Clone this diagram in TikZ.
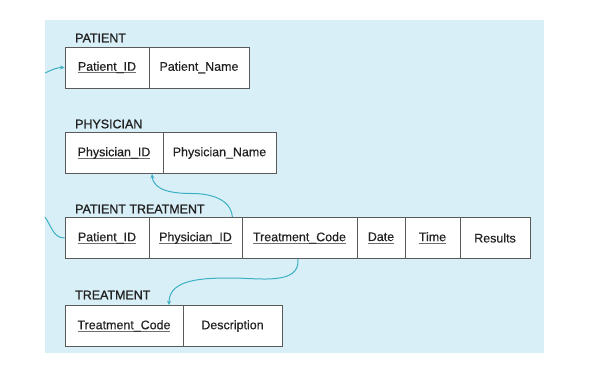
\documentclass[tikz,border=0pt]{standalone}
\usepackage{fontspec}
\setmainfont{Liberation Sans}
\newfontfamily\cellfont[FakeBold=0.4]{Liberation Sans}
\newfontfamily\titlefont[FakeBold=1.1]{Liberation Sans}
\usetikzlibrary{arrows.meta}
\definecolor{bgblue}{HTML}{D9EFF7}
\definecolor{teal}{HTML}{3BB0C3}
\definecolor{boxline}{HTML}{5A5A5A}
\definecolor{keyline}{HTML}{6E6E6E}
\definecolor{txt}{HTML}{222222}
\newcommand\keyf[1]{\setbox0\hbox{#1}\rlap{\textcolor{keyline}{\rule[-2.6pt]{\wd0}{0.9pt}}}\box0}
\tikzset{
  cell/.style={draw=boxline, line width=0.8bp, fill=white, minimum height=41bp, inner sep=0pt,
    text=txt, font=\cellfont\fontsize{12.5}{14}\selectfont},
  title/.style={anchor=west, inner sep=0pt, text=txt, font=\titlefont\fontsize{12.5}{14}\selectfont},
  link/.style={draw=teal, line width=1bp},
  tip/.style={-{Stealth[length=4.5bp,width=4bp]}}
}
\begin{document}
\begin{tikzpicture}[x=1bp,y=-1bp]
\useasboundingbox (0,0) rectangle (612,372);
\fill[bgblue] (45,20) rectangle (544,353);

% PATIENT
\node[title] (tpa) at (75,38) {PATIENT};
\node[cell, minimum width=84bp] (pa1) at (107,67.5) {\keyf{Patient\_ID}};
\node[cell, minimum width=100bp] (pa2) at (199,67.5) {Patient\_Name};

% PHYSICIAN
\node[title] (tph) at (75,124) {PHYSICIAN};
\node[cell, minimum width=98bp] (ph1) at (114,153) {\keyf{Physician\_ID}};
\node[cell, minimum width=113bp] (ph2) at (219.5,153) {Physician\_Name};

% PATIENT TREATMENT
\node[title] (tpt) at (75,209) {PATIENT TREATMENT};
\node[cell, minimum width=84bp] (pt1) at (107,238) {\keyf{Patient\_ID}};
\node[cell, minimum width=93bp] (pt2) at (195.5,238) {\keyf{Physician\_ID}};
\node[cell, minimum width=115bp] (pt3) at (299.5,238) {\keyf{Treatment\_Code}};
\node[cell, minimum width=48bp] (pt4) at (381,238) {\keyf{Date}};
\node[cell, minimum width=55bp] (pt5) at (432.5,238) {\keyf{Time}};
\node[cell, minimum width=70bp] (pt6) at (495,238) {Results};

% TREATMENT
\node[title] (ttr) at (75,295) {TREATMENT};
\node[cell, minimum width=118bp] (tr1) at (124,326) {\keyf{Treatment\_Code}};
\node[cell, minimum width=99bp] (tr2) at (232.5,326) {Description};

% connectors
\coordinate (in1) at (45,73);
\coordinate (out1) at (45,217);
\coordinate (m1) at (192,193.5);
\coordinate (m2) at (232,278);

\draw[link, tip] (in1) to[out=25,in=180] (pa1.west);
\draw[link] (pt1.west) to[out=180,in=-55] (out1);
\draw[link, tip] ([xshift=-10bp]pt2.north east) to[out=95,in=0] (m1)
  to[out=180,in=-85] ([xshift=38bp]ph1.south);
\draw[link, tip] ([xshift=-1.5bp]pt3.south) to[out=-85,in=0] (m2)
  to[out=180,in=90] ([xshift=45bp]tr1.north);
\end{tikzpicture}
\end{document}
